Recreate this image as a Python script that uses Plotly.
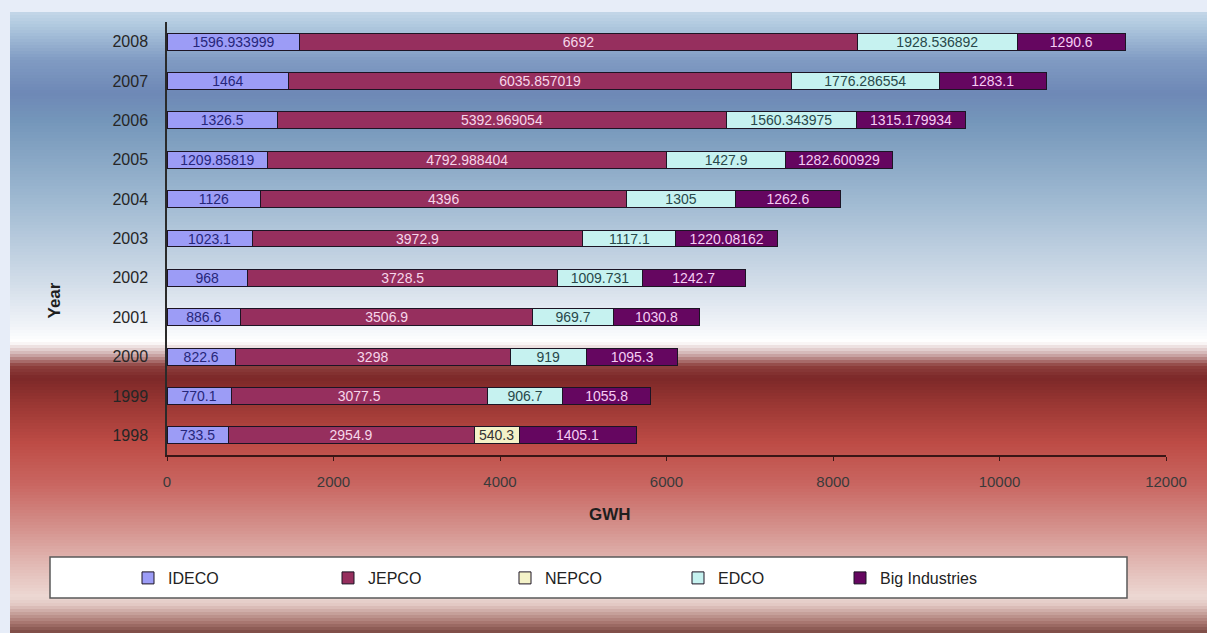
import plotly.graph_objects as go

# Electricity sales by distributor, GWH
years = ["1998", "1999", "2000", "2001", "2002", "2003", "2004", "2005", "2006", "2007", "2008"]
ideco = [733.5, 770.1, 822.6, 886.6, 968, 1023.1, 1126, 1209.85819, 1326.5, 1464, 1596.933999]
jepco = [2954.9, 3077.5, 3298, 3506.9, 3728.5, 3972.9, 4396, 4792.988404, 5392.969054, 6035.857019, 6692]
nepco = [540.3, None, None, None, None, None, None, None, None, None, None]
edco = [None, 906.7, 919, 969.7, 1009.731, 1117.1, 1305, 1427.9, 1560.343975, 1776.286554, 1928.536892]
big_industries = [1405.1, 1055.8, 1095.3, 1030.8, 1242.7, 1220.08162, 1262.6, 1282.600929, 1315.179934, 1283.1, 1290.6]

x_ticks = [0, 2000, 4000, 6000, 8000, 10000, 12000]

W, H = 1207, 633
L, R, T, B = 167, 41, 22, 178
PW, PH = W - L - R, H - T - B


def px_x(px):
    return (px - L) / PW


def px_y(py):
    return (H - B - py) / PH


def label(v):
    if v is None:
        return None
    return str(int(v)) if float(v).is_integer() else str(v)


series = [
    ("IDECO", ideco, "#9C9CF6", "#26267A"),
    ("JEPCO", jepco, "#962F5E", "#F6D6EA"),
    ("NEPCO", nepco, "#F4F2C8", "#333333"),
    ("EDCO", edco, "#C6F2F0", "#28484A"),
    ("Big Industries", big_industries, "#650660", "#F6CCF4"),
]

# legend entry anchor positions (pixels)
legend_px = [128, 328, 505, 678, 840]

fig = go.Figure()
for i, (name, vals, color, tcolor) in enumerate(series):
    fig.add_trace(go.Bar(
        name=name,
        y=years,
        x=vals,
        orientation="h",
        marker=dict(color=color, line=dict(color="#1c1424", width=1)),
        text=[label(v) for v in vals],
        textposition="inside",
        insidetextanchor="middle",
        textangle=0,
        constraintext="none",
        textfont=dict(family="Arial", size=14, color=tcolor),
        legend="legend" if i == 0 else f"legend{i + 1}",
        hoverinfo="x+name",
    ))

# vertical background gradient
stops = [
    (12, (196, 214, 232)),
    (24, (178, 203, 224)),
    (60, (128, 155, 195)),
    (93, (110, 136, 182)),
    (121, (116, 150, 186)),
    (202, (160, 186, 210)),
    (283, (210, 221, 233)),
    (325, (240, 243, 248)),
    (342, (255, 255, 255)),
    (354, (208, 176, 176)),
    (366, (142, 64, 62)),
    (378, (124, 40, 40)),
    (406, (156, 56, 52)),
    (444, (190, 76, 70)),
    (484, (201, 102, 97)),
    (525, (211, 142, 137)),
    (565, (226, 186, 181)),
    (597, (236, 216, 211)),
    (605, (226, 200, 195)),
    (622, (170, 120, 114)),
    (633, (122, 72, 66)),
]


def color_at(py):
    for (y0, c0), (y1, c1) in zip(stops[:-1], stops[1:]):
        if y0 <= py <= y1:
            t = (py - y0) / (y1 - y0) if y1 > y0 else 0
            return tuple(round(a + (b - a) * t) for a, b in zip(c0, c1))
    return stops[-1][1]


shapes = []
step = 3
py = 12
while py < H:
    c = color_at(py + step / 2)
    shapes.append(dict(
        type="rect", xref="paper", yref="paper", layer="below",
        x0=px_x(10), x1=px_x(W + 2), y0=px_y(min(py + step + 0.6, H + 2)), y1=px_y(py),
        fillcolor=f"rgb{c}", line=dict(width=0),
    ))
    py += step

# legend frame
shapes.append(dict(
    type="rect", xref="paper", yref="paper", layer="below",
    x0=px_x(50), x1=px_x(1127), y0=px_y(598), y1=px_y(557),
    fillcolor="white", line=dict(color="#5a5a5a", width=1.5),
))

legends = {}
for i, lx in enumerate(legend_px):
    key = "legend" if i == 0 else f"legend{i + 1}"
    legends[key] = dict(
        x=px_x(lx), y=px_y(578), xanchor="left", yanchor="middle",
        orientation="h", bgcolor="rgba(0,0,0,0)", borderwidth=0,
        font=dict(family="Arial", size=16, color="#222222"),
        itemwidth=30,
    )

fig.update_layout(
    width=W, height=H,
    margin=dict(l=L, r=R, t=T, b=B),
    paper_bgcolor="#E7EDF8",
    plot_bgcolor="rgba(0,0,0,0)",
    barmode="stack",
    bargap=0.57,
    showlegend=True,
    shapes=shapes,
    xaxis=dict(
        range=[0, 12000], tickvals=x_ticks, ticktext=[str(v) for v in x_ticks],
        showgrid=False, zeroline=False,
        showline=True, linecolor="#3a1616", linewidth=1.5,
        ticks="outside", ticklen=4, tickcolor="#3a1616",
        tickfont=dict(family="Arial", size=15, color="#3a3a3a"),
        ticklabelstandoff=8,
        fixedrange=True,
    ),
    yaxis=dict(
        type="category", categoryorder="array", categoryarray=years,
        range=[-0.5, 10.5],
        showgrid=False, zeroline=False,
        showline=True, linecolor="#2a2a2a", linewidth=1.5,
        ticks="", tickfont=dict(family="Arial", size=16, color="#262626"),
        ticklabelstandoff=14,
        fixedrange=True,
    ),
    annotations=[
        dict(text="GWH", xref="paper", yref="paper", x=px_x(610), y=px_y(526),
             showarrow=False, font=dict(family="Arial", size=17, color="#1e1e1e", weight="bold")),
        dict(text="Year", xref="paper", yref="paper", x=px_x(42), y=px_y(300),
             showarrow=False, textangle=-90,
             font=dict(family="Arial", size=17, color="#1e1e1e", weight="bold")),
    ],
    **legends,
)

fig.write_html("out.html")
